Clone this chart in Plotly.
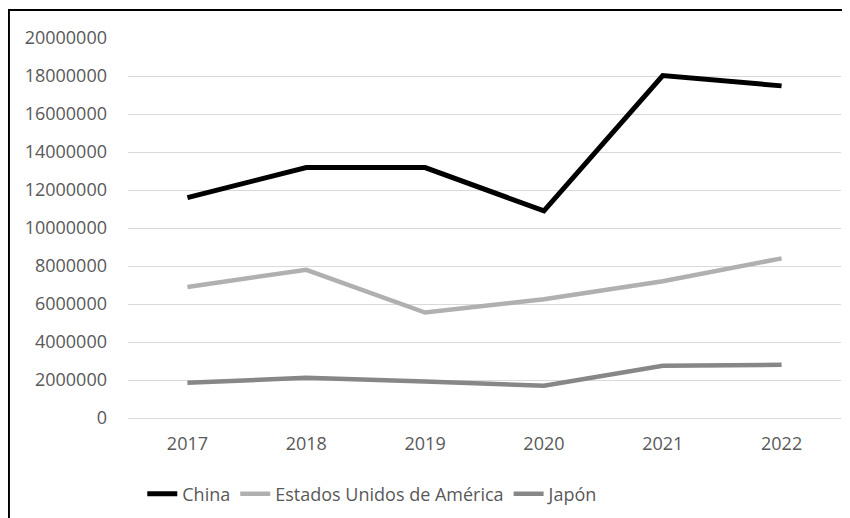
import plotly.graph_objects as go

years = ['2017', '2018', '2019', '2020', '2021', '2022']
china = [11600000, 13180000, 13180000, 10900000, 18020000, 17480000]
eeuu = [6900000, 7800000, 5550000, 6250000, 7200000, 8400000]
japon = [1850000, 2120000, 1920000, 1700000, 2750000, 2800000]
y_ticks = [0, 2000000, 4000000, 6000000, 8000000, 10000000,
           12000000, 14000000, 16000000, 18000000, 20000000]

series = [
    ('China', china, '#000000', 5),
    ('Estados Unidos de América', eeuu, '#b0b0b0', 4.5),
    ('Japón', japon, '#878787', 4.5),
]

fig = go.Figure()
for name, vals, color, width in series:
    fig.add_trace(go.Scatter(x=years, y=vals, name=name, mode='lines',
                             line={'color': color, 'width': width}))

# page body has an 8px margin, so the figure is sized to the visible window
fig.update_layout(
    width=842, height=510,
    margin={'l': 120, 'r': 9, 't': 30, 'b': 100, 'autoexpand': False},
    plot_bgcolor='white', paper_bgcolor='white',
    font={'family': 'Open Sans, sans-serif', 'size': 18, 'color': '#595959'},
    showlegend=True,
    legend={'orientation': 'h', 'x': 0.344, 'xanchor': 'center',
            'y': -0.2, 'yanchor': 'middle', 'font': {'size': 18},
            'itemwidth': 30, 'tracegroupgap': 0},
)
fig.update_xaxes(type='category', range=[-0.5, 5.5], showgrid=False,
                 showline=False, ticks='', ticklabelstandoff=13,
                 automargin=False)
fig.update_yaxes(range=[0, 20000000], tickvals=y_ticks,
                 ticktext=[str(v) for v in y_ticks],
                 showgrid=True, gridcolor='#d9d9d9', gridwidth=1,
                 zeroline=True, zerolinecolor='#d9d9d9', zerolinewidth=1,
                 showline=False, ticks='', ticklabelstandoff=20,
                 automargin=False)

# chart frame (cropped on the right and bottom in the original)
fig.add_shape(type='rect', xref='paper', yref='paper',
              x0=-0.167, x1=1.5, y0=-0.5, y1=1.074,
              line={'color': 'black', 'width': 2}, layer='above')

fig.write_html('out.html')
